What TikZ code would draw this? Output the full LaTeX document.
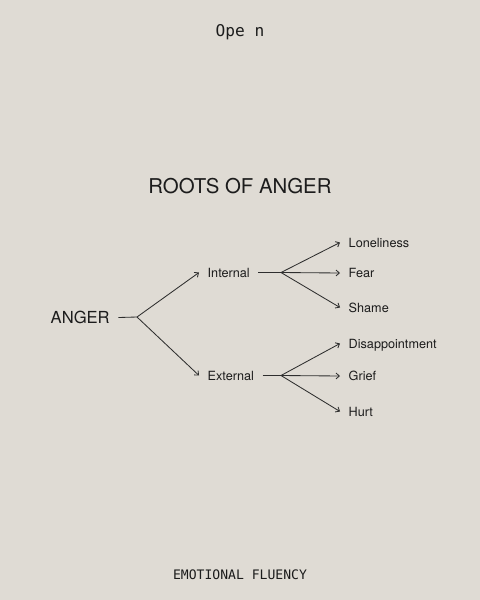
\documentclass[tikz,border=0pt]{standalone}
\usepackage{fontspec}
\setmainfont{TeX Gyre Heros}
\newfontfamily\monofont{DejaVu Sans Mono}
\usepackage{xcolor}
\usepackage{tikz}
\usetikzlibrary{arrows.meta,positioning}
\definecolor{paperBeige}{HTML}{DFDBD4}
\definecolor{inkDark}{HTML}{1C1C1C}
\definecolor{lineDark}{HTML}{2E2E2E}

\begin{document}
\begin{tikzpicture}[x=0.025cm, y=-0.025cm,
  lbl/.style={anchor=west, inner xsep=6pt, inner ysep=0pt, text height=6.5pt, text depth=0pt,
    font=\fontsize{9}{11}\selectfont, text=inkDark},
  conn/.style={draw=lineDark, line width=0.6pt},
  tip/.style={conn, -{Straight Barb[length=2.4pt,width=4.2pt]}}]
% background
\fill[paperBeige] (0,0) rectangle (480,600);
\useasboundingbox (0,0) rectangle (480,600);
% header and footer
\node[font=\monofont\fontsize{11.5}{13}\selectfont, text=inkDark] (brand) at (240,32) {Ope n};
\node[font=\monofont\fontsize{9.3}{11}\selectfont, text=inkDark] (footer) at (240,574.5) {EMOTIONAL FLUENCY};
% title
\node[font=\fontsize{14.5}{17}\selectfont, text=inkDark] (title) at (240,186.5) {ROOTS OF ANGER};
% root
\node[lbl, font=\fontsize{11.8}{14}\selectfont, text height=8.5pt] (anger) at (42,317.5) {ANGER};
\coordinate (fork0) at (137,317);
% first level
\node[lbl] (internal) at (199,272.5) {Internal};
\node[lbl] (external) at (199,375.5) {External};
\coordinate (fork1) at (281,272.5);
\coordinate (fork2) at (281,375.5);
% leaves
\node[lbl] (lonely) at (340,242.5) {Loneliness};
\node[lbl] (fear) at (340,273) {Fear};
\node[lbl] (shame) at (340,307.5) {Shame};
\node[lbl] (disap) at (340,343.5) {Disappointment};
\node[lbl] (grief) at (340,376) {Grief};
\node[lbl] (hurt) at (340,411.5) {Hurt};
% connectors
\draw[conn] (anger.east) -- (fork0);
\draw[tip] (fork0) -- (internal.west);
\draw[tip] (fork0) -- (external.west);
\draw[conn] (internal.east) -- (fork1);
\draw[conn] (external.east) -- (fork2);
\foreach \leaf in {lonely,fear,shame}
  \draw[tip] (fork1) -- (\leaf.west);
\foreach \leaf in {disap,grief,hurt}
  \draw[tip] (fork2) -- (\leaf.west);
\end{tikzpicture}
\end{document}
